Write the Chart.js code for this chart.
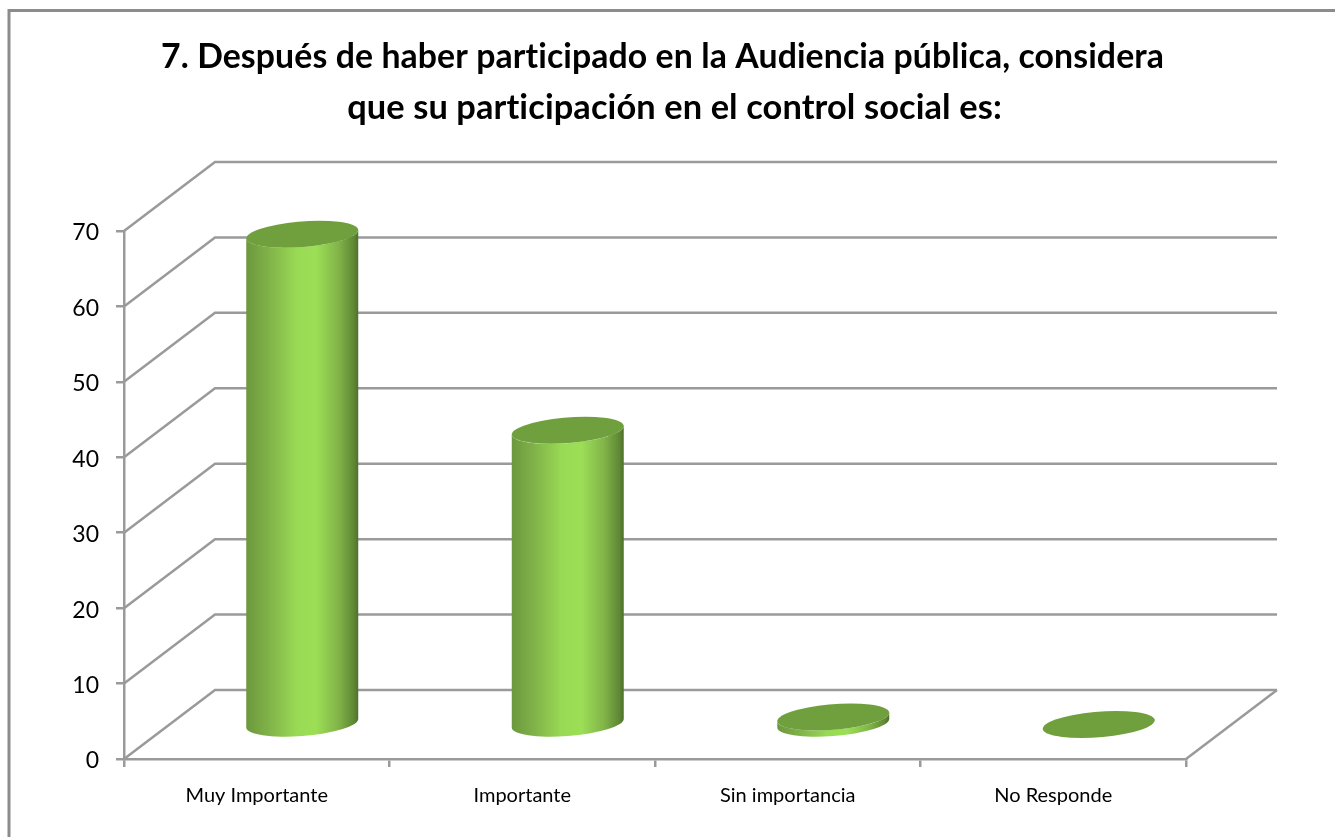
<!DOCTYPE html>
<html>
<head>
<meta charset="utf-8">
<title>Audiencia pública</title>
<script src="https://cdn.jsdelivr.net/npm/chart.js@4/dist/chart.umd.js"></script>
<style>
    html, body { margin: 0; padding: 0; background: #fff; }
    canvas { display: block; }
</style>
</head>
<body>
<canvas id="chart1" width="1335" height="837"></canvas>
<script>
var categories = ['Muy Importante', 'Importante', 'Sin importancia', 'No Responde'];
var values = [65, 39, 1, 0];
var yTicks = [0, 10, 20, 30, 40, 50, 60, 70];
var titleLines = [
    '7. Después de haber participado en la Audiencia pública, considera',
    'que su participación en el control social es:'
];

var gridColor = '#9a9a9a';
var depthX = 91;    // oblique offset of the back wall
var depthY = -69;

// border of the chart object and title
var framePlugin = {
    id: 'frame',
    beforeDraw: function(chart) {
        var ctx = chart.ctx;
        ctx.save();
        ctx.strokeStyle = '#8c8c8c';
        ctx.lineWidth = 3;
        ctx.beginPath();
        ctx.moveTo(9, 837);
        ctx.lineTo(9, 10.5);
        ctx.lineTo(1335, 10.5);
        ctx.stroke();
        ctx.fillStyle = '#000';
        ctx.textAlign = 'center';
        ctx.textBaseline = 'alphabetic';
        ctx.letterSpacing = '0.1px';
        ctx.font = 'bold 33.8px Lato';
        ctx.fillText(titleLines[0], 662.5, 68);
        ctx.font = 'bold 34.4px Lato';
        ctx.fillText(titleLines[1], 674.5, 119);
        ctx.restore();
    }
};

// side wall, back wall and floor lines
var wallPlugin = {
    id: 'walls',
    // Lato sits higher than the original font, nudge the y labels down
    afterLayout: function(chart) {
        chart.scales.y.drawLabels = function(area) {
            this.ctx.save();
            this.ctx.translate(0, 2);
            Chart.Scale.prototype.drawLabels.call(this, area);
            this.ctx.restore();
        };
    },
    beforeDatasetsDraw: function(chart) {
        var ctx = chart.ctx;
        var x = chart.scales.x;
        var y = chart.scales.y;
        ctx.save();
        ctx.strokeStyle = gridColor;
        ctx.lineWidth = 2.5;
        yTicks.forEach(function(t) {
            var py = y.getPixelForValue(t);
            ctx.beginPath();
            ctx.moveTo(x.left, py);
            ctx.lineTo(x.left + depthX, py + depthY);
            ctx.lineTo(x.right + depthX, py + depthY);
            ctx.stroke();
        });
        ctx.beginPath();
        ctx.moveTo(x.right, y.bottom);
        ctx.lineTo(x.right + depthX, y.bottom + depthY);
        ctx.stroke();
        ctx.restore();
    }
};

function ellipsePath(ctx, cx, cy, ux, vx, vy, from, to, ccw) {
    ctx.save();
    ctx.transform(ux, 0, vx, vy, cx, cy);
    ctx.arc(0, 0, 1, from, to, ccw);
    ctx.restore();
}

// cylinders, placed from the bar elements of the library
var cylinderPlugin = {
    id: 'cylinders',
    afterDatasetsDraw: function(chart) {
        var ctx = chart.ctx;
        var bars = chart.getDatasetMeta(0).data;
        bars.forEach(function(bar) {
            var rx = bar.width / 2;
            var vx = 17.5;
            var vy = -13.5;
            var ux = Math.sqrt(rx * rx - vx * vx);
            var t0 = Math.atan2(vx, ux);
            var cx = bar.x + depthX / 2;
            var top = bar.y + depthY / 2;
            var base = bar.base + depthY / 2;

            if (base - top > 0.5) {
                var g = ctx.createLinearGradient(cx - rx, 0, cx + rx, 0);
                g.addColorStop(0, '#6c983d');
                g.addColorStop(0.2, '#80b249');
                g.addColorStop(0.45, '#99da55');
                g.addColorStop(0.62, '#9cdf56');
                g.addColorStop(0.82, '#82b549');
                g.addColorStop(0.96, '#5f8834');
                g.addColorStop(1, '#4f7029');
                ctx.fillStyle = g;
                ctx.beginPath();
                ellipsePath(ctx, cx, base, ux, vx, vy, t0, t0 - Math.PI, true);
                ellipsePath(ctx, cx, top, ux, vx, vy, t0 - Math.PI, t0, false);
                ctx.closePath();
                ctx.fill();
            }

            ctx.fillStyle = '#70a03e';
            ctx.beginPath();
            ellipsePath(ctx, cx, top, ux, vx, vy, 0, Math.PI * 2, false);
            ctx.fill();
        });
    }
};

var myChart = new Chart(document.getElementById('chart1'), {
    type: 'bar',
    data: {
        labels: categories,
        datasets: [{
            data: values,
            backgroundColor: 'transparent',
            borderWidth: 0,
            barPercentage: 0.4218,
            categoryPercentage: 1
        }]
    },
    options: {
        responsive: false,
        animation: false,
        layout: { padding: { top: 231, right: 149, left: 0, bottom: 0 } },
        plugins: {
            legend: { display: false },
            tooltip: { enabled: false }
        },
        scales: {
            x: {
                afterFit: function(scale) { scale.height = 78; },
                grid: { drawOnChartArea: false, color: gridColor, lineWidth: 2.5, tickLength: 8 },
                border: { color: gridColor, width: 2.5 },
                ticks: { color: '#000', font: { family: 'Lato', size: 20 }, padding: 17, maxRotation: 0 }
            },
            y: {
                min: 0,
                max: 70,
                afterFit: function(scale) { scale.width = 124; },
                grid: { drawOnChartArea: false, color: gridColor, lineWidth: 2.5, tickLength: 8 },
                border: { color: gridColor, width: 2.5 },
                ticks: { color: '#000', font: { family: 'Lato', size: 23 }, padding: 17, stepSize: 10 }
            }
        }
    },
    plugins: [framePlugin, wallPlugin, cylinderPlugin]
});
</script>
</body>
</html>
